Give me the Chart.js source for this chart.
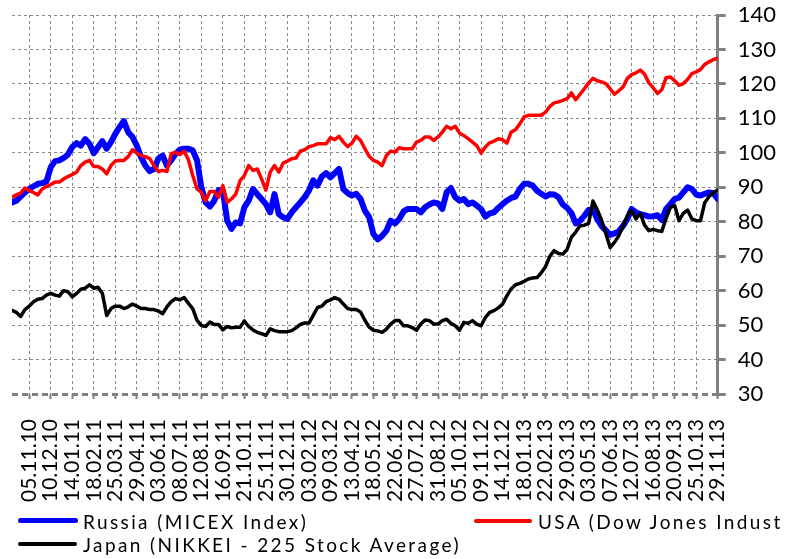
<!DOCTYPE html>
<html>
<head>
<meta charset="utf-8">
<script src="https://cdn.jsdelivr.net/npm/chart.js@4"></script>
<style>
  body { margin: 0; background: #fff; }
  #wrap { position: relative; width: 798px; height: 559px; overflow: hidden; }
  .leg { position: absolute; font-family: Lato, sans-serif; font-size: 19px; letter-spacing: 2.4px; color: #000; white-space: nowrap; line-height: 1; }
  .swatch { position: absolute; border-radius: 3px; }
</style>
</head>
<body>
<div id="wrap">
  <canvas id="myChart" width="798" height="559"></canvas>
  <div class="swatch" style="left:18px; top:518px; width:60px; height:5px; background:#0000ff;"></div>
  <div class="leg" style="left:83px; top:512px;">Russia (MICEX Index)</div>
  <div class="swatch" style="left:474px; top:519px; width:58px; height:4px; background:#ff0000;"></div>
  <div class="leg" style="left:538px; top:512px;">USA (Dow Jones Indust</div>
  <div class="swatch" style="left:18px; top:542px; width:59px; height:4px; background:#000000;"></div>
  <div class="leg" style="left:83px; top:535px;">Japan (NIKKEI - 225 Stock Average)</div>
</div>
<script>
// tick labels every 5 weeks, weekly data starts 4 weeks before the first label
const tickDates = ['05.11.10', '10.12.10', '14.01.11', '18.02.11', '25.03.11', '29.04.11', '03.06.11', '08.07.11',
    '12.08.11', '16.09.11', '21.10.11', '25.11.11', '30.12.11', '03.02.12', '09.03.12', '13.04.12', '18.05.12',
    '22.06.12', '27.07.12', '31.08.12', '05.10.12', '09.11.12', '14.12.12', '18.01.13', '22.02.13', '29.03.13',
    '03.05.13', '07.06.13', '12.07.13', '16.08.13', '20.09.13', '25.10.13', '29.11.13'];

const russia = [85.6, 86.1, 87.3, 88.5, 89.5, 90.3, 91, 91.2, 91.7, 95.8, 97.6, 97.8, 98.5, 99.5, 101.7, 102.8, 102.1,
    104, 102.6, 99.9, 101.7, 103.4, 101.2, 103.1, 105.5, 107.5, 109.2, 106, 104.6, 102.1, 98.7, 96.3, 94.7, 95.3, 98.3,
    99.2, 96.3, 97.8, 99.7, 100.9, 101.2, 101.2, 100.7, 97.8, 90, 85.6, 84.4, 86.1, 89.2, 89, 80.3, 77.9, 79.8, 79.5,
    84.2, 86.1, 89.5, 88, 86.6, 85.1, 82.7, 88, 82.2, 81.3, 80.8, 82.7, 84.2, 85.6, 87.1, 89, 92, 90.5, 93.1, 94.1,
    92.9, 94.1, 95.3, 89.5, 88.3, 87.6, 88.1, 86.6, 83.2, 81.3, 76.4, 74.9, 75.9, 77.4, 80.3, 79.5, 80.8, 83, 83.7,
    83.7, 83.7, 82.7, 84.2, 85, 85.6, 85.3, 83.7, 88.5, 89.8, 87.1, 86.1, 86.6, 85.1, 85.6, 84.7, 83.7, 81.5, 82.4,
    82.7, 84, 85.1, 86.1, 86.9, 87.3, 89.5, 91, 91, 90.5, 89, 88.1, 87.3, 88, 87.9, 87.1, 85, 84, 82.5, 79.5, 80.3,
    81.7, 83.4, 83.5, 80.8, 78.8, 77.5, 76.2, 76.6, 77.2, 78.8, 80.8, 83.7, 82.7, 82.2, 81.9, 81.5, 81.6, 81.9, 80.5,
    83.7, 85.1, 86.6, 87, 88.5, 90, 89.5, 87.9, 87.6, 88.1, 88.5, 88.3, 86.6];

const usa = [87.1, 87.8, 88.3, 89.8, 89, 88.5, 87.8, 89.5, 90.2, 90.8, 91.5, 91.5, 92.4, 93.1, 93.7, 94.4, 96.3, 97.3,
    97.8, 96, 96, 95.3, 93.9, 96.3, 97.6, 97.8, 97.8, 98.9, 100.9, 99.9, 99.2, 98.9, 98.3, 96.3, 94.6, 94.9, 94.6,
    99.7, 100.2, 99.5, 100.5, 98, 93.4, 89.5, 88.5, 86.1, 88.8, 88.8, 87.1, 90.5, 85.6, 86.6, 88, 91.9, 93.4, 96.3,
    94.9, 95.3, 92.4, 89.2, 94.4, 96.3, 94.4, 97, 97.6, 98.3, 98.5, 100.5, 100.9, 101.8, 102.1, 102.6, 102.6, 102.6,
    104.4, 103.8, 104.8, 103.1, 101.8, 102.8, 104.8, 103.6, 101.2, 99, 97.8, 97.3, 96.3, 99.2, 100.5, 100.2, 101.5,
    101.2, 101.2, 101.2, 103.1, 103.6, 104.6, 104.6, 103.6, 104.6, 106, 107.7, 107, 107.7, 105.7, 105, 104.1, 103.1,
    102.1, 99.9, 101.7, 102.9, 103.4, 104.1, 103.8, 102.8, 106, 106.7, 108.4, 110.4, 110.9, 110.9, 110.9, 110.9,
    111.8, 113.5, 114.5, 114.8, 115.2, 115.7, 117.4, 115.4, 117, 118.6, 120.3, 121.6, 120.9, 120.6, 120.1, 118.6,
    117, 118, 119.1, 121.6, 122.7, 123.2, 124, 122.8, 120.3, 118.9, 117.2, 118.3, 121.8, 122, 120.9, 119.6, 120.1,
    121.3, 123, 123.5, 124.2, 125.7, 126.4, 127.1, 127.4];

const japan = [54.3, 53.7, 52.5, 54.5, 55.5, 56.8, 57.5, 57.7, 58.7, 59.2, 58.7, 58.4, 60, 59.7, 58.2, 59.2, 60.4, 60.7,
    61.7, 60.7, 61, 59.2, 52.8, 54.8, 55.5, 55.5, 54.8, 55.3, 56.1, 55.5, 54.8, 54.8, 54.5, 54.5, 54.1, 53.3, 55.3,
    56.8, 57.7, 57.3, 58, 56.3, 54.8, 51.4, 49.9, 49.6, 50.9, 50.2, 50.2, 48.6, 49.6, 49.2, 49.4, 49.4, 51.2, 49.6,
    48.6, 47.9, 47.5, 47, 48.9, 48.4, 48.1, 48.1, 48.1, 48.4, 49.2, 50.2, 50.6, 50.6, 52.8, 55.1, 55.5, 56.8, 57.3,
    58, 57.5, 56.1, 54.8, 54.5, 54.5, 53.8, 51.4, 49.4, 48.5, 48.3, 47.9, 48.8, 50.3, 51.3, 51.3, 49.8, 49.8, 49.3,
    48.5, 50.3, 51.5, 51.3, 50.3, 50.3, 51.3, 51.7, 50.5, 49.8, 48.5, 50.8, 50.5, 51.3, 50.3, 49.8, 52.2, 53.7, 54.2,
    55, 56.1, 58.5, 60.5, 61.7, 62.1, 62.7, 63.4, 63.7, 63.8, 65.2, 67, 70, 71.6, 70.8, 70.6, 72, 75.5, 77, 78.8, 79,
    79.5, 86, 83.5, 80.5, 76.6, 72.5, 74, 75.9, 78.8, 81.7, 83.2, 80.8, 82.4, 79, 77.4, 77.8, 77.4, 77.2, 81, 84.2,
    84.7, 80.3, 82.4, 83.4, 80.8, 80.3, 80.3, 85.6, 87.3, 88.5, 89.2];

const firstWeek = -4;

function toPoints(values) {
    return values.map((v, k) => ({ x: firstWeek + k, y: v }));
}


function makeDataset(label, values, color, width, order) {
    return {
        label,
        data: toPoints(values),
        borderColor: color,
        backgroundColor: color,
        borderWidth: width,
        pointRadius: 0,
        tension: 0,
        borderJoinStyle: 'round',
        borderCapStyle: 'round',
        order
    };
}

new Chart(document.getElementById('myChart'), {
    type: 'line',
    data: {
        datasets: [
            makeDataset('Russia (MICEX Index)', russia, '#0000ff', 6, 2),
            makeDataset('USA (Dow Jones Industrial Average)', usa, '#ff0000', 3.5, 1),
            makeDataset('Japan (NIKKEI - 225 Stock Average)', japan, '#000000', 3.5, 0)
        ]
    },
    options: {
        responsive: false,
        animation: false,
        layout: { padding: { left: 12, right: 10, top: 0, bottom: 37 } },
        plugins: { legend: { display: false }, tooltip: { enabled: false } },
        scales: {
            x: {
                type: 'linear',
                min: firstWeek,
                max: 160,
                afterBuildTicks: (scale) => {
                    scale.ticks = tickDates.map((d, j) => ({ value: j * 5 }));
                },
                ticks: {
                    callback: (value, index) => tickDates[index],
                    minRotation: 90,
                    maxRotation: 90,
                    autoSkip: false,
                    padding: 20,
                    color: '#000',
                    font: { family: 'Lato', size: 21 }
                },
                grid: {
                    color: '#8a8a8a',
                    lineWidth: 1,
                    tickColor: '#808080',
                    tickWidth: 2,
                    tickLength: 5
                },
                border: { display: false, dash: [3, 3] }
            },
            y: {
                position: 'right',
                min: 30,
                max: 140,
                afterFit: (scale) => {
                    // the label padding should not push the plot down
                    scale.paddingTop = 15;
                },
                ticks: { stepSize: 10, padding: 12, color: '#000', font: { family: 'Lato', size: 22 } },
                grid: {
                    color: (c) => (c.tick && c.tick.value === 30 ? '#808080' : '#8a8a8a'),
                    lineWidth: (c) => (c.tick && c.tick.value === 30 ? 3 : 1),
                    tickColor: '#808080',
                    tickWidth: 3,
                    tickLength: 8
                },
                border: {
                    display: true,
                    color: '#808080',
                    width: 3,
                    dash: (c) => (c.tick && c.tick.value === 30 ? [6, 4] : [3, 3])
                }
            }
        }
    }
});
</script>
</body>
</html>
